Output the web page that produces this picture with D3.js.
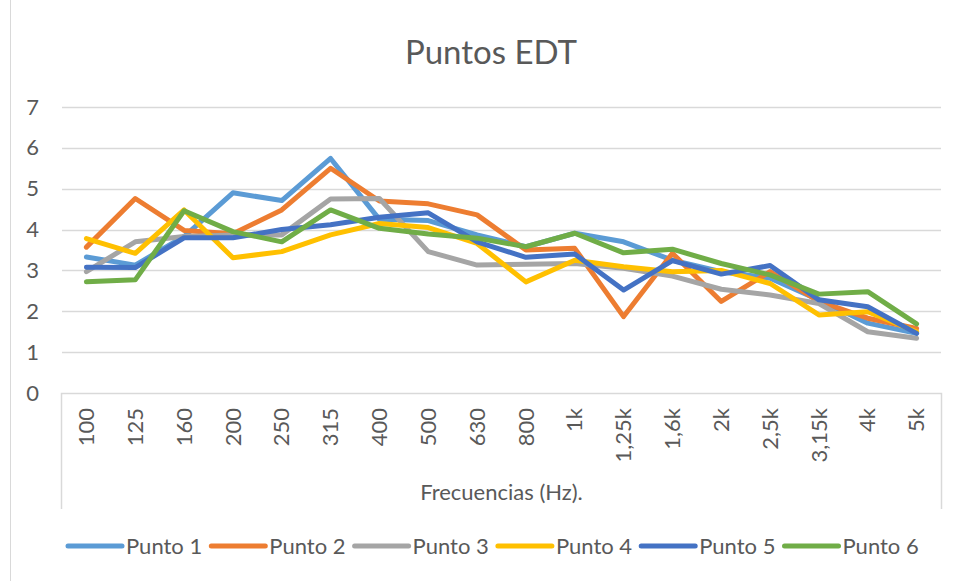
<!DOCTYPE html>
<html>
<head>
<meta charset="utf-8">
<script src="https://cdn.jsdelivr.net/npm/d3@7"></script>
<style>
  body { margin: 0; background: #fff; }
  text { font-family: Lato, "Open Sans", sans-serif; fill: #595959; }
</style>
</head>
<body>
<div id="chart"></div>
<script>
// chart values
var categories = ["100","125","160","200","250","315","400","500","630","800","1k","1,25k","1,6k","2k","2,5k","3,15k","4k","5k"];
var seriesNames = ["Punto 1","Punto 2","Punto 3","Punto 4","Punto 5","Punto 6"];
var punto1 = [3.33, 3.13, 3.83, 4.90, 4.71, 5.74, 4.25, 4.22, 3.87, 3.58, 3.91, 3.70, 3.25, 2.97, 2.81, 2.28, 1.71, 1.46];
var punto2 = [3.57, 4.76, 3.98, 3.90, 4.48, 5.50, 4.70, 4.63, 4.36, 3.50, 3.54, 1.87, 3.42, 2.24, 2.97, 2.24, 1.83, 1.58];
var punto3 = [2.97, 3.70, 3.83, 3.87, 3.87, 4.75, 4.76, 3.46, 3.13, 3.15, 3.17, 3.05, 2.86, 2.54, 2.40, 2.19, 1.50, 1.34];
var punto4 = [3.78, 3.42, 4.48, 3.31, 3.46, 3.87, 4.15, 4.05, 3.66, 2.72, 3.25, 3.09, 2.97, 3.00, 2.68, 1.91, 1.99, 1.50];
var punto5 = [3.08, 3.07, 3.80, 3.80, 4.00, 4.12, 4.30, 4.41, 3.70, 3.32, 3.40, 2.52, 3.24, 2.91, 3.12, 2.28, 2.11, 1.46];
var punto6 = [2.72, 2.77, 4.46, 3.95, 3.70, 4.48, 4.03, 3.89, 3.79, 3.58, 3.91, 3.43, 3.52, 3.17, 2.89, 2.42, 2.48, 1.69];
var yTicks = [0, 1, 2, 3, 4, 5, 6, 7];

var allSeries = [punto1, punto2, punto3, punto4, punto5, punto6];
var colors = ["#5B9BD5", "#ED7D31", "#A5A5A5", "#FFC000", "#4472C4", "#70AD47"];

var width = 958, height = 581;
// plot box (window.top is read-only, so no plain "top" here)
var plotLeft = 62, plotRight = 941, plotTop = 107, plotBottom = 393;

var svg = d3.select("#chart").append("svg")
    .attr("width", width)
    .attr("height", height);

// chart area border (only the left edge shows in the picture)
svg.append("line")
    .attr("x1", 10.5).attr("x2", 10.5)
    .attr("y1", 0).attr("y2", height)
    .attr("stroke", "#D9D9D9");

var x = d3.scaleBand().domain(categories).range([plotLeft, plotRight]);
var y = d3.scaleLinear().domain([0, 7]).range([plotBottom, plotTop]);

// gridlines
svg.append("g")
    .selectAll("line")
    .data(yTicks.slice(1))
    .enter().append("line")
    .attr("x1", plotLeft).attr("x2", plotRight)
    .attr("y1", function(d) { return Math.round(y(d)) + 0.5; })
    .attr("y2", function(d) { return Math.round(y(d)) + 0.5; })
    .attr("stroke", "#D9D9D9")
    .attr("stroke-width", 1.5);

// y axis labels
var yAxis = d3.axisLeft(y).tickValues(yTicks).tickFormat(d3.format("d")).tickSize(0).tickPadding(23);
svg.append("g")
    .attr("transform", "translate(" + plotLeft + ",0)")
    .call(yAxis)
    .call(function(g) { g.select(".domain").remove(); })
    .selectAll("text")
    .style("font-size", "22px")
    .style("font-family", "Lato, sans-serif")
    .attr("fill", "#595959");

// box around the category labels
var boxBottom = 509;
svg.append("path")
    .attr("d", "M" + (plotLeft - 0.5) + "," + boxBottom + "V" + (plotBottom + 0.5) + "H" + (plotRight + 0.5) + "V" + boxBottom)
    .attr("fill", "none")
    .attr("stroke", "#D9D9D9")
    .attr("stroke-width", 1.5);

// category labels, rotated
svg.append("g")
    .selectAll("text")
    .data(categories)
    .enter().append("text")
    .attr("transform", function(d) {
        return "translate(" + (x(d) + x.bandwidth() / 2) + "," + 408 + ") rotate(-90)";
    })
    .attr("text-anchor", "end")
    .attr("dy", "0.35em")
    .style("font-size", "22px")
    .text(function(d) { return d; });

// axis title
svg.append("text")
    .attr("x", (plotLeft + plotRight) / 2)
    .attr("y", 500)
    .attr("text-anchor", "middle")
    .style("font-size", "22px")
    .text("Frecuencias (Hz).");

// title
svg.append("text")
    .attr("x", 491)
    .attr("y", 64)
    .attr("text-anchor", "middle")
    .style("font-size", "33px")
    .text("Puntos EDT");

// series lines
var line = d3.line()
    .x(function(d, i) { return x(categories[i]) + x.bandwidth() / 2; })
    .y(function(d) { return y(d); });

svg.append("g")
    .selectAll("path")
    .data(allSeries)
    .enter().append("path")
    .attr("d", line)
    .attr("fill", "none")
    .attr("stroke", function(d, i) { return colors[i]; })
    .attr("stroke-width", 5)
    .attr("stroke-linejoin", "round")
    .attr("stroke-linecap", "round");

// legend
var legend = svg.append("g")
    .selectAll("g")
    .data(seriesNames)
    .enter().append("g")
    .attr("transform", function(d, i) { return "translate(" + (68 + i * 143.3) + ",546)"; });

legend.append("line")
    .attr("x1", 0).attr("x2", 54)
    .attr("stroke", function(d, i) { return colors[i]; })
    .attr("stroke-width", 5)
    .attr("stroke-linecap", "round");

legend.append("text")
    .attr("x", 58)
    .attr("y", 7.5)
    .style("font-size", "22px")
    .text(function(d) { return d; });
</script>
</body>
</html>
